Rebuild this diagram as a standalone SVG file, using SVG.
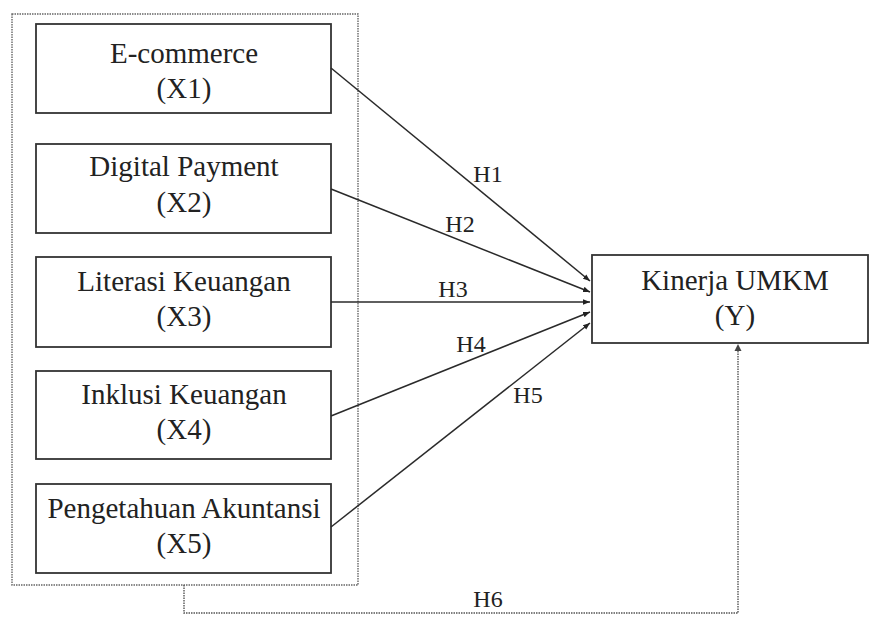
<svg xmlns="http://www.w3.org/2000/svg" width="874" height="619" viewBox="0 0 874 619">
<style>
  .box { fill: #ffffff; stroke: #333333; stroke-width: 1.8; }
  .frame { fill: none; stroke: #666666; stroke-width: 1.4; stroke-dasharray: 1.5 1; }
  .t { font-family: "Liberation Serif", "Times New Roman", serif; font-size: 29px; fill: #222222; text-anchor: middle; }
  .h { font-family: "Liberation Serif", "Times New Roman", serif; font-size: 24px; fill: #222222; text-anchor: middle; }
  .conn { stroke: #2a2a2a; stroke-width: 1.5; fill: none; marker-end: url(#arr); }
  .dot { stroke: #555555; stroke-width: 1.4; fill: none; stroke-dasharray: 1.5 1; }
</style>
<defs>
  <marker id="arr" viewBox="0 0 10 10" refX="10" refY="5" markerWidth="7" markerHeight="7" markerUnits="userSpaceOnUse" orient="auto">
    <path d="M0,1 L10,5 L0,9 z" fill="#222222"/>
  </marker>
</defs>
<rect width="874" height="619" fill="#ffffff"/>
<g id="group-x">
  <rect class="frame" x="12" y="14" width="346" height="571"/>
</g>
<g id="x1">
  <rect class="box" x="36" y="24" width="295" height="89"/>
  <text class="t" x="184" y="63">E-commerce</text>
  <text class="t" x="184" y="98">(X1)</text>
</g>
<g id="x2">
  <rect class="box" x="36" y="144" width="295" height="89"/>
  <text class="t" x="184" y="176">Digital Payment</text>
  <text class="t" x="184" y="212">(X2)</text>
</g>
<g id="x3">
  <rect class="box" x="36" y="257" width="295" height="90"/>
  <text class="t" x="184" y="291">Literasi Keuangan</text>
  <text class="t" x="184" y="326">(X3)</text>
</g>
<g id="x4">
  <rect class="box" x="36" y="371" width="295" height="88"/>
  <text class="t" x="184" y="404">Inklusi Keuangan</text>
  <text class="t" x="184" y="439">(X4)</text>
</g>
<g id="x5">
  <rect class="box" x="36" y="484" width="295" height="89"/>
  <text class="t" x="184" y="518">Pengetahuan Akuntansi</text>
  <text class="t" x="184" y="553">(X5)</text>
</g>
<g id="y">
  <rect class="box" x="592" y="255" width="276" height="88"/>
  <text class="t" x="735" y="290">Kinerja UMKM</text>
  <text class="t" x="735" y="325">(Y)</text>
</g>
<g id="connectors">
  <line class="conn" x1="331" y1="68" x2="590" y2="281"/>
  <line class="conn" x1="331" y1="189" x2="590" y2="292"/>
  <line class="conn" x1="331" y1="302" x2="590" y2="302"/>
  <line class="conn" x1="331" y1="416" x2="590" y2="312"/>
  <line class="conn" x1="331" y1="527" x2="590" y2="323"/>
  <path class="dot" d="M184,585 L184,613 L738,613 L738,350"/>
  <path d="M734.5,351 L738,344 L741.5,351 z" fill="#444444"/>
  <text class="h" x="488" y="182">H1</text>
  <text class="h" x="460" y="232">H2</text>
  <text class="h" x="453" y="297">H3</text>
  <text class="h" x="471" y="352">H4</text>
  <text class="h" x="528" y="403">H5</text>
  <text class="h" x="488" y="607">H6</text>
</g>
</svg>
